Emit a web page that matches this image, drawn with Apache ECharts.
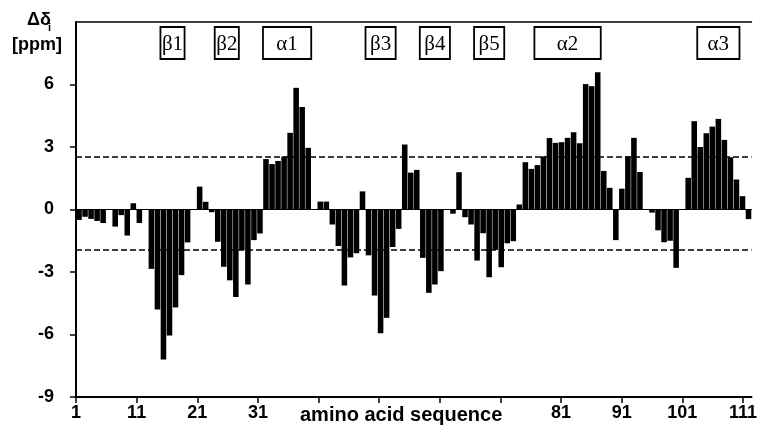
<!DOCTYPE html>
<html>
<head>
<meta charset="utf-8">
<script src="https://cdn.jsdelivr.net/npm/echarts@6/dist/echarts.min.js"></script>
<style>
html,body{margin:0;padding:0;background:#fff;}
#chart{width:760px;height:433px;}
</style>
</head>
<body>
<div id="chart"></div>
<script>
// Residue numbers 1..112
const residues = [];
for (let i = 1; i <= 112; i++) residues.push(String(i));

// Chemical shift deviation per residue (ppm)
const deltaValues = [
  -0.5, -0.35, -0.45, -0.55, -0.65, 0, -0.82, -0.27, -1.25, 0.3,
  -0.65, 0, -2.85, -4.8, -7.2, -6.05, -4.7, -3.15, -1.58, 0,
  1.1, 0.37, -0.13, -1.55, -2.75, -3.4, -4.2, -1.95, -3.6, -1.47,
  -1.15, 2.42, 2.18, 2.33, 2.54, 3.68, 5.84, 4.92, 2.96, 0,
  0.38, 0.38, -0.72, -1.75, -3.65, -2.3, -2.1, 0.87, -2.2, -4.13,
  -5.94, -5.2, -1.8, -0.93, 3.12, 1.77, 1.9, -2.32, -4.0, -3.6,
  -2.96, 0, -0.2, 1.79, -0.37, -0.72, -2.45, -1.14, -3.25, -1.94,
  -2.77, -1.62, -1.52, 0.24, 2.27, 1.95, 2.13, 2.55, 3.43, 3.2,
  3.23, 3.44, 3.71, 3.18, 6.02, 5.92, 6.59, 1.85, 1.04, -1.47,
  1.0, 2.55, 3.44, 1.8, 0, -0.15, -1.0, -1.57, -1.5, -2.8,
  0, 1.52, 4.24, 3.0, 3.66, 3.98, 4.35, 3.34, 2.51, 1.44,
  0.64, -0.46
];

// Threshold lines (ppm)
const thresholds = [2.55, -1.92];

// Secondary structure elements (residue ranges)
const ssNames = ['β1', 'β2', 'α1', 'β3', 'β4', 'β5', 'α2', 'α3'];
const ssStart = [15, 24, 32, 49, 58, 67, 77, 104];
const ssEnd   = [18, 27, 39, 53, 62, 71, 87, 110];

// Axis ticks
const xTickResidues = [1, 11, 21, 31, 41, 51, 61, 71, 81, 91, 101, 111];
const xTickLabels = ['1', '11', '21', '31', '81', '91', '101', '111'];
const yTicks = [-9, -6, -3, 0, 3, 6];
const yMin = -9, yMax = 9;

const FONT = 'Liberation Sans';

const chart = echarts.init(document.getElementById('chart'), null, {renderer: 'canvas'});

const ssData = ssNames.map((n, i) => ({name: n, value: [ssStart[i] - 1, ssEnd[i] - 1, 0]}));

const option = {
  animation: false,
  backgroundColor: '#fff',
  grid: {left: 76, right: 3.4, top: 22, bottom: 36, containLabel: false},
  xAxis: [
    {
      type: 'category',
      data: residues,
      boundaryGap: true,
      axisLine: {show: true, onZero: true, lineStyle: {color: '#000', width: 1}},
      axisTick: {show: false},
      axisLabel: {show: false},
      splitLine: {show: false}
    },
    {
      type: 'value',
      position: 'bottom',
      min: 0,
      max: 111.41,
      interval: 10,
      axisLine: {show: true, onZero: false, lineStyle: {color: '#000', width: 2}},
      axisTick: {show: true, length: 6, lineStyle: {color: '#000', width: 1.5},
                 customValues: xTickResidues.map(r => r - 1)},
      axisLabel: {show: true, margin: 7, color: '#000', fontFamily: FONT, fontWeight: 'bold', fontSize: 18,
                  customValues: xTickLabels.map(t => Number(t) - 1),
                  formatter: v => String(Math.round(v) + 1)},
      splitLine: {show: false}
    },
    {
      type: 'value',
      position: 'top',
      min: 0, max: 1,
      axisLine: {show: true, onZero: false, lineStyle: {color: '#000', width: 1.5}},
      axisTick: {show: false},
      axisLabel: {show: false},
      splitLine: {show: false}
    }
  ],
  yAxis: {
    type: 'value',
    min: yMin,
    max: yMax,
    interval: 3,
    axisLine: {show: true, onZero: false, lineStyle: {color: '#000', width: 2}},
    axisTick: {show: true, length: 6, lineStyle: {color: '#000', width: 1.5}, customValues: yTicks},
    axisLabel: {show: true, margin: 22, color: '#000', fontFamily: FONT, fontWeight: 'bold', fontSize: 18,
                customValues: yTicks},
    splitLine: {show: false}
  },
  series: [
    {
      type: 'bar',
      xAxisIndex: 0,
      yAxisIndex: 0,
      data: deltaValues,
      barCategoryGap: '8%',
      itemStyle: {color: '#000'},
      markLine: {
        silent: true,
        symbol: ['none', 'none'],
        label: {show: false},
        lineStyle: {color: '#000', type: [6, 3], width: 1.6},
        data: thresholds.map(t => ({yAxis: t}))
      },
      z: 2
    },
    {
      type: 'custom',
      xAxisIndex: 0,
      yAxisIndex: 0,
      data: ssData,
      encode: {x: 0, y: 2},
      z: 5,
      renderItem: function (params, api) {
        const p1 = api.coord([api.value(0), 0]);
        const p2 = api.coord([api.value(1), 0]);
        const bw = api.size([1, 0])[0];
        const x1 = p1[0] - bw / 2;
        const x2 = p2[0] + bw / 2;
        const top = params.coordSys.y + 5;
        const h = 32;
        return {
          type: 'group',
          children: [
            {type: 'rect', shape: {x: x1, y: top, width: x2 - x1, height: h},
             style: {fill: '#fff', stroke: '#000', lineWidth: 1.8}},
            {type: 'text', style: {text: ssNames[params.dataIndex], x: (x1 + x2) / 2, y: top + h / 2 + 1,
              align: 'center', verticalAlign: 'middle', fill: '#000',
              font: '21px "Liberation Serif"'}}
          ]
        };
      }
    }
  ],
  graphic: [
    {type: 'text', left: 27, top: 11, style: {text: 'Δδ', fill: '#000', font: 'bold 18px "' + FONT + '"'}},
    {type: 'text', left: 48, top: 22, style: {text: 'i', fill: '#000', font: 'bold 11px "' + FONT + '"'}},
    {type: 'text', left: 12, top: 36, style: {text: '[ppm]', fill: '#000', font: 'bold 18px "' + FONT + '"'}},
    {type: 'text', left: 300, top: 405, style: {text: 'amino acid sequence', fill: '#000', font: 'bold 20px "' + FONT + '"'}}
  ]
};

chart.setOption(option);
</script>
</body>
</html>
